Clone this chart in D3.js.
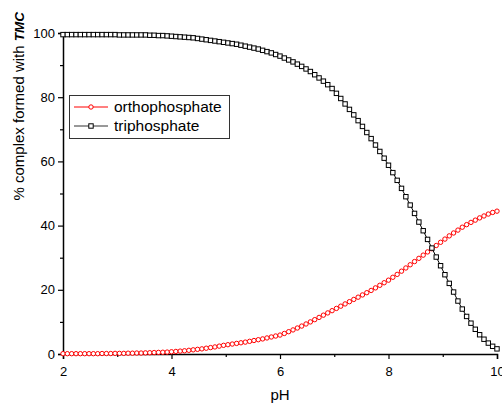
<!DOCTYPE html>
<html>
<head>
<meta charset="utf-8">
<script src="https://cdn.jsdelivr.net/npm/d3@7"></script>
<style>
  body { margin: 0; background: #fff; }
  svg { display: block; font-family: "Liberation Sans", Arial, sans-serif; }
</style>
</head>
<body>
<div id="chart"></div>
<script>
const width = 502;
const height = 407;

// pH sampling points (step 0.08)
const pH = [
  2.00, 2.08, 2.16, 2.24, 2.32, 2.40, 2.48, 2.56, 2.64, 2.72, 2.80, 2.88, 2.96,
  3.04, 3.12, 3.20, 3.28, 3.36, 3.44, 3.52, 3.60, 3.68, 3.76, 3.84, 3.92, 4.00,
  4.08, 4.16, 4.24, 4.32, 4.40, 4.48, 4.56, 4.64, 4.72, 4.80, 4.88, 4.96,
  5.04, 5.12, 5.20, 5.28, 5.36, 5.44, 5.52, 5.60, 5.68, 5.76, 5.84, 5.92, 6.00,
  6.08, 6.16, 6.24, 6.32, 6.40, 6.48, 6.56, 6.64, 6.72, 6.80, 6.88, 6.96,
  7.04, 7.12, 7.20, 7.28, 7.36, 7.44, 7.52, 7.60, 7.68, 7.76, 7.84, 7.92, 8.00,
  8.08, 8.16, 8.24, 8.32, 8.40, 8.48, 8.56, 8.64, 8.72, 8.80, 8.88, 8.96,
  9.04, 9.12, 9.20, 9.28, 9.36, 9.44, 9.52, 9.60, 9.68, 9.76, 9.84, 9.92, 10.00
];

const orthophosphate = [
  0.1, 0.1, 0.1, 0.1, 0.1, 0.1, 0.1, 0.1, 0.1, 0.15, 0.15, 0.15, 0.2,
  0.2, 0.2, 0.25, 0.25, 0.3, 0.3, 0.35, 0.4, 0.45, 0.5, 0.55, 0.6, 0.7,
  0.8, 0.9, 1.0, 1.15, 1.3, 1.45, 1.6, 1.8, 2.0, 2.2, 2.45, 2.7,
  2.9, 3.1, 3.3, 3.5, 3.7, 3.95, 4.2, 4.45, 4.7, 5.0, 5.3, 5.6, 5.9,
  6.4, 6.95, 7.5, 8.1, 8.7, 9.35, 10.0, 10.7, 11.4, 12.1, 12.8, 13.5,
  14.2, 14.9, 15.6, 16.3, 17.0, 17.7, 18.4, 19.1, 19.8, 20.6, 21.4, 22.2, 23.0,
  23.9, 24.8, 25.8, 26.8, 27.8, 28.8, 29.8, 30.8, 31.8, 32.8, 33.8, 34.8,
  35.8, 36.8, 37.7, 38.6, 39.5, 40.3, 41.0, 41.7, 42.4, 43.0, 43.6, 44.1, 44.5
];

const triphosphate = [
  99.5, 99.5, 99.5, 99.5, 99.5, 99.5, 99.5, 99.5, 99.5, 99.5, 99.5, 99.5, 99.5,
  99.4, 99.4, 99.4, 99.4, 99.4, 99.4, 99.4, 99.3, 99.3, 99.2, 99.2, 99.1, 99.0,
  98.9, 98.8, 98.7, 98.6, 98.5, 98.3, 98.1, 97.9, 97.7, 97.5, 97.3, 97.1,
  96.9, 96.7, 96.5, 96.2, 95.9, 95.6, 95.3, 95.0, 94.6, 94.2, 93.8, 93.3, 92.8,
  92.2, 91.6, 91.0, 90.3, 89.6, 88.8, 88.0, 87.0, 86.0, 85.0, 83.9, 82.7,
  81.2, 79.6, 77.9, 76.2, 74.5, 72.7, 70.9, 69.0, 67.1, 65.1, 63.1, 61.0, 58.8,
  56.5, 54.1, 51.6, 49.0, 46.4, 43.8, 41.1, 38.4, 35.7, 33.0, 30.2, 27.5,
  24.7, 22.0, 19.3, 16.5, 14.0, 11.7, 9.6, 7.7, 6.0, 4.6, 3.4, 2.4, 1.6
];

const xMajor = [2, 4, 6, 8, 10];
const xMinor = [3, 5, 7, 9];
const yMajor = [0, 20, 40, 60, 80, 100];
const yMinor = [10, 30, 50, 70, 90];

const margin = {top: 33, right: 5, bottom: 53, left: 63};

const svg = d3.select("#chart")
  .append("svg")
  .attr("width", width)
  .attr("height", height);

const x = d3.scaleLinear()
  .domain([2, 10])
  .range([margin.left, width - margin.right]);

const y = d3.scaleLinear()
  .domain([0, 100])
  .range([height - margin.bottom, margin.top]);

// axes
svg.append("g")
  .attr("transform", `translate(0,${height - margin.bottom})`)
  .call(d3.axisBottom(x).tickValues(xMajor).tickSize(5).tickPadding(8).tickFormat(d3.format("d")));
svg.append("g")
  .attr("transform", `translate(0,${height - margin.bottom})`)
  .call(d3.axisBottom(x).tickValues(xMinor).tickSize(3).tickFormat(""))
  .call(g => g.select(".domain").remove());

svg.append("g")
  .attr("transform", `translate(${margin.left},0)`)
  .call(d3.axisLeft(y).tickValues(yMajor).tickSize(5).tickPadding(3));
svg.append("g")
  .attr("transform", `translate(${margin.left},0)`)
  .call(d3.axisLeft(y).tickValues(yMinor).tickSize(3).tickFormat(""))
  .call(g => g.select(".domain").remove());

svg.selectAll(".domain")
  .attr("stroke", "#000")
  .attr("stroke-width", 1.5);
svg.selectAll(".tick line")
  .attr("stroke", "#000")
  .attr("stroke-width", 1.2);
svg.selectAll(".tick text")
  .attr("font-family", "'Liberation Sans', Arial, sans-serif")
  .attr("font-size", 13)
  .attr("fill", "#000");

// axis titles
svg.append("text")
  .attr("x", x(6))
  .attr("y", 400)
  .attr("text-anchor", "middle")
  .attr("font-size", 15)
  .text("pH");

const yTitle = svg.append("text")
  .attr("transform", "translate(24,12) rotate(-90)")
  .attr("text-anchor", "end")
  .attr("font-size", 15);
yTitle.append("tspan").text("% complex formed with ");
yTitle.append("tspan")
  .attr("font-weight", "bold")
  .attr("font-style", "italic")
  .attr("font-size", 13.5)
  .text("TMC");

// series
const series = [
  {name: "orthophosphate", values: orthophosphate, color: "#ff0000", marker: "circle"},
  {name: "triphosphate", values: triphosphate, color: "#000000", marker: "square"}
];

const line = d3.line()
  .x(d => x(d[0]))
  .y(d => y(d[1]));

const ms = 4.4;

series.forEach(s => {
  const pts = pH.map((p, i) => [p, s.values[i]]);
  const g = svg.append("g");
  g.append("path")
    .datum(pts)
    .attr("fill", "none")
    .attr("stroke", s.color)
    .attr("stroke-width", 1)
    .attr("d", line);
  if (s.marker === "circle") {
    g.selectAll("circle")
      .data(pts)
      .join("circle")
      .attr("cx", d => x(d[0]))
      .attr("cy", d => y(d[1]))
      .attr("r", ms / 2)
      .attr("fill", "#fff")
      .attr("stroke", s.color)
      .attr("stroke-width", 1);
  } else {
    g.selectAll("rect")
      .data(pts)
      .join("rect")
      .attr("x", d => x(d[0]) - ms / 2)
      .attr("y", d => y(d[1]) - ms / 2)
      .attr("width", ms)
      .attr("height", ms)
      .attr("fill", "#fff")
      .attr("stroke", s.color)
      .attr("stroke-width", 1);
  }
});

// legend
const legend = svg.append("g");
legend.append("rect")
  .attr("x", 69.5)
  .attr("y", 95.5)
  .attr("width", 160)
  .attr("height", 43)
  .attr("fill", "#fff")
  .attr("stroke", "#333")
  .attr("stroke-width", 1);

series.forEach((s, i) => {
  const cy = 107 + i * 19;
  const lc = s.marker === "circle" ? s.color : "#333";
  legend.append("line")
    .attr("x1", 74).attr("x2", 108)
    .attr("y1", cy).attr("y2", cy)
    .attr("stroke", lc)
    .attr("stroke-width", 1);
  if (s.marker === "circle") {
    legend.append("circle")
      .attr("cx", 91).attr("cy", cy).attr("r", ms / 2)
      .attr("fill", "#fff").attr("stroke", s.color);
  } else {
    legend.append("rect")
      .attr("x", 91 - ms / 2).attr("y", cy - ms / 2)
      .attr("width", ms).attr("height", ms)
      .attr("fill", "#fff").attr("stroke", s.color);
  }
  legend.append("text")
    .attr("x", 114)
    .attr("y", cy)
    .attr("dy", "0.35em")
    .attr("font-size", 15.5)
    .text(s.name);
});
</script>
</body>
</html>
